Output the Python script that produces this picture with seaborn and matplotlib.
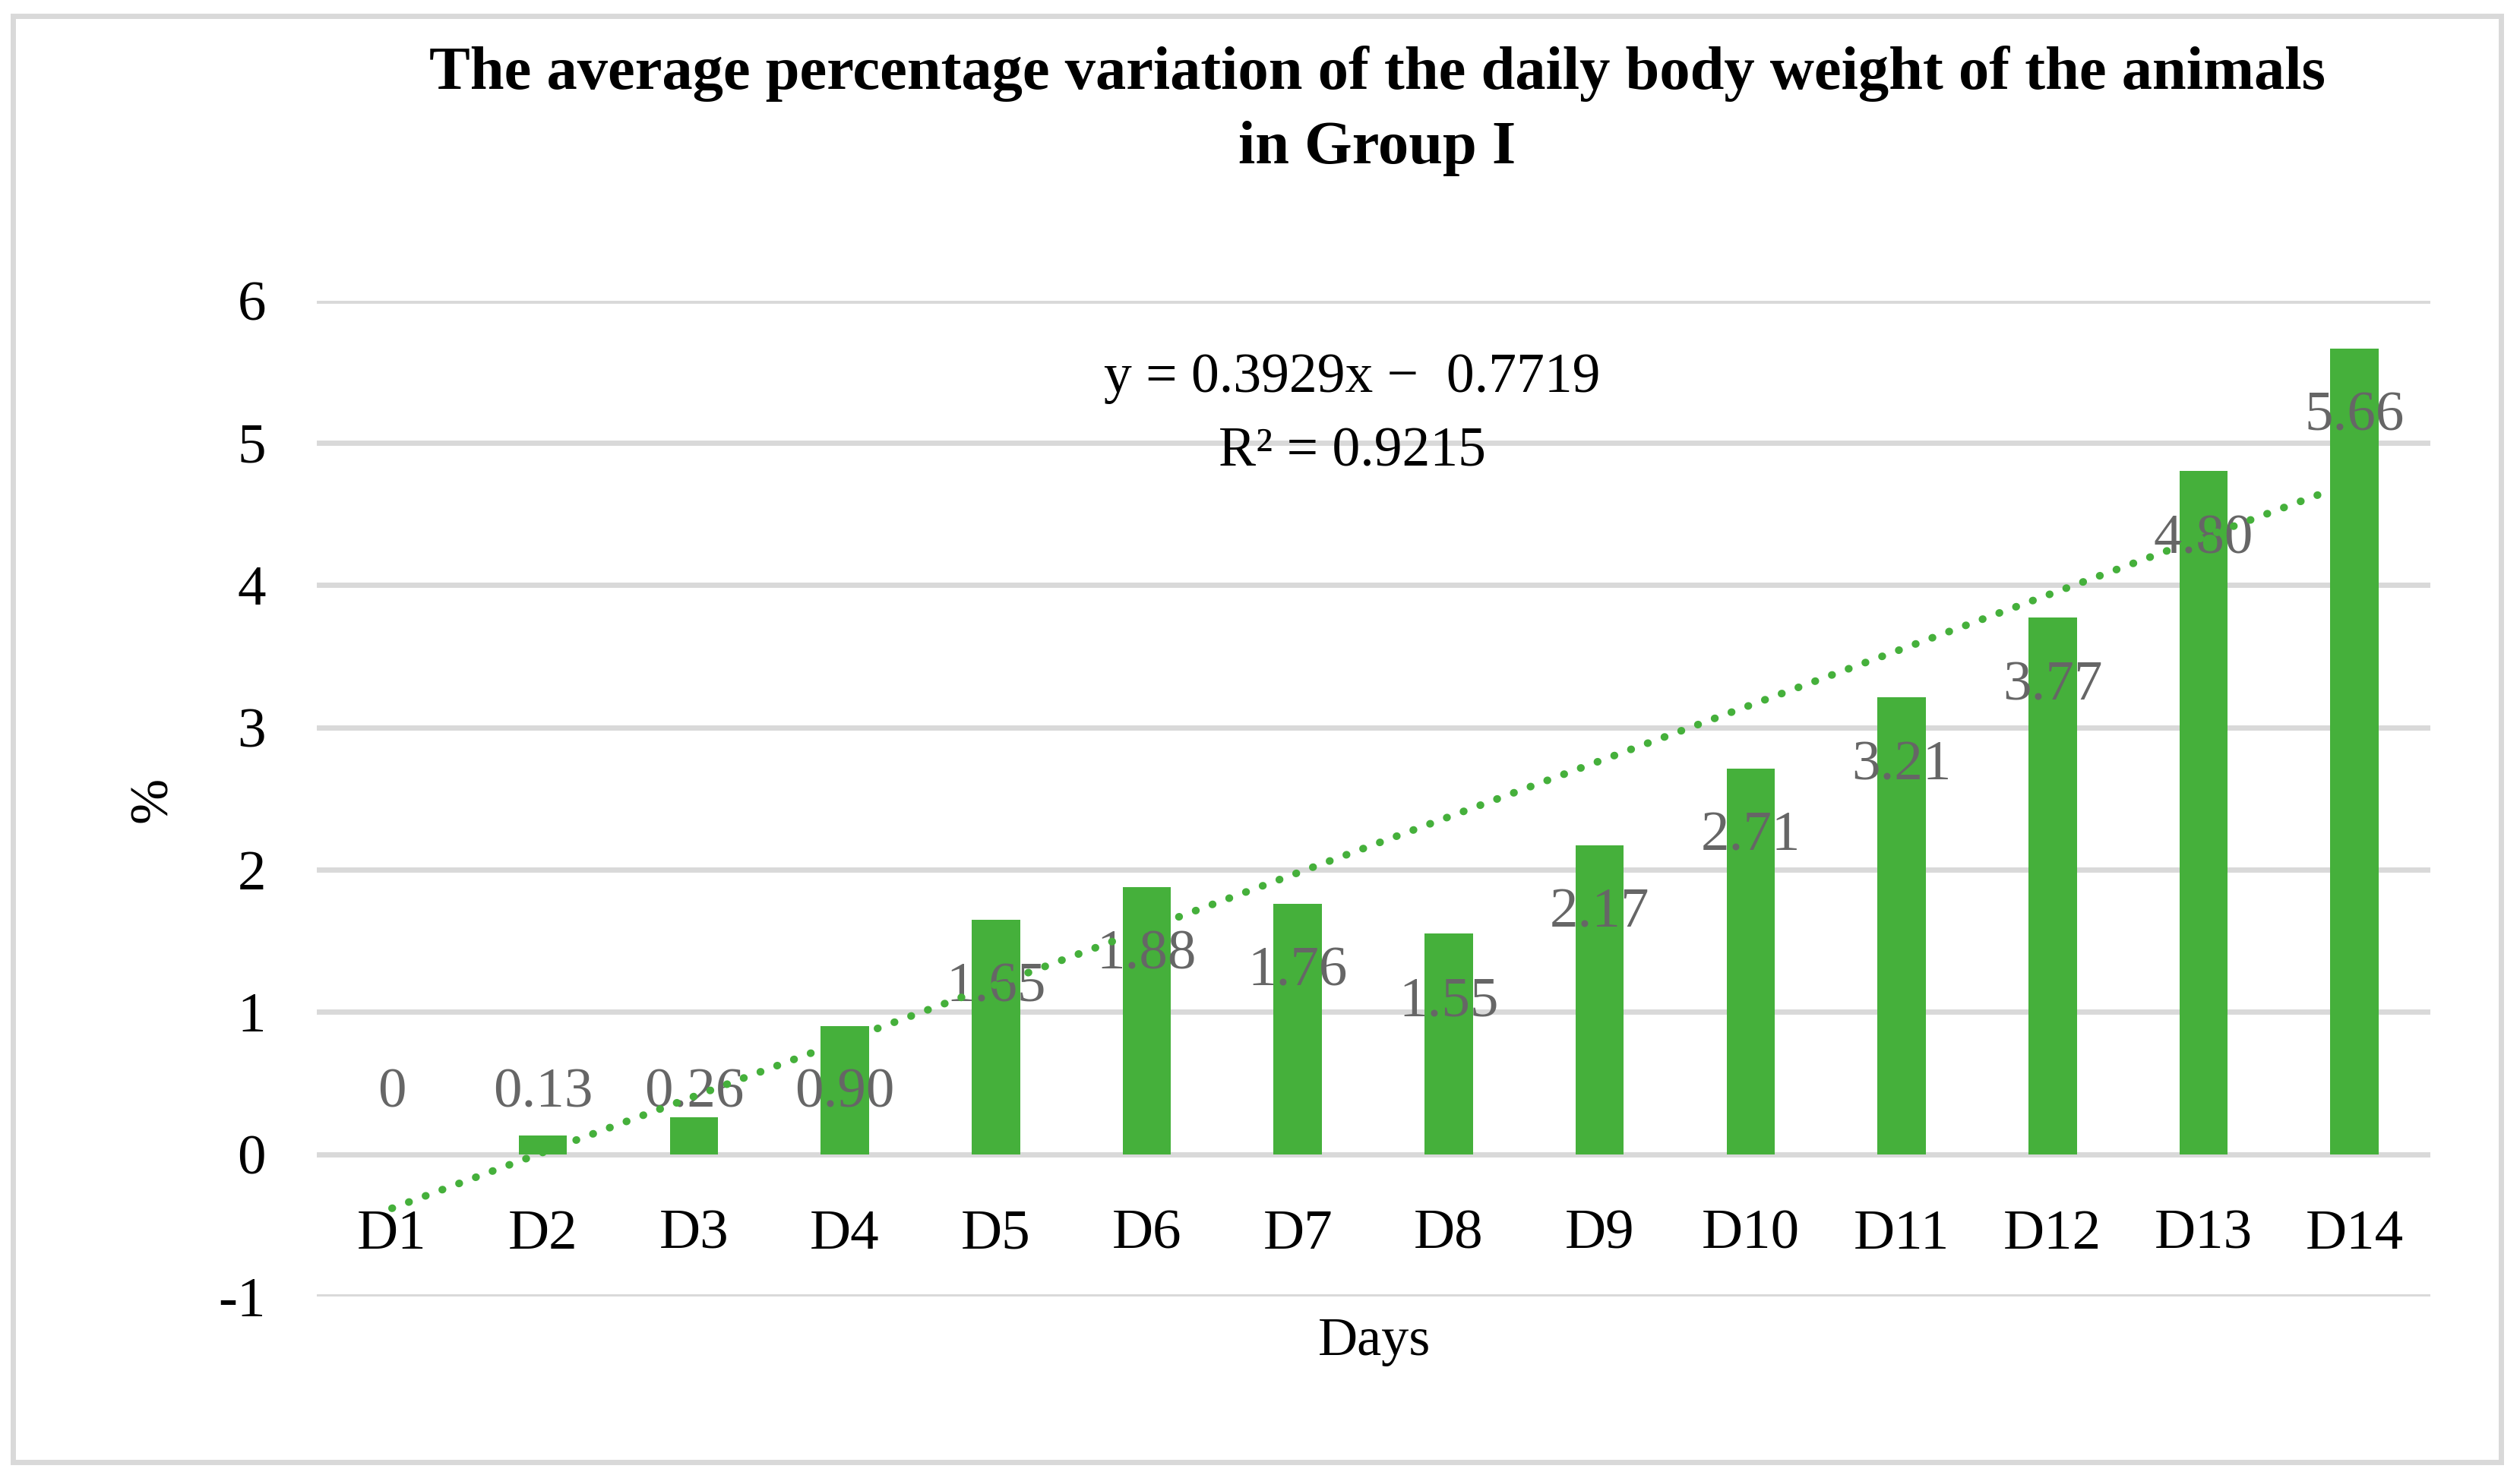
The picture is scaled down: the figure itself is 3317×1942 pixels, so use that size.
import numpy as np
import seaborn as sns
import matplotlib.pyplot as plt
from matplotlib.patches import Rectangle

# Data
days = ["D1", "D2", "D3", "D4", "D5", "D6", "D7", "D8", "D9", "D10", "D11", "D12", "D13", "D14"]
values = [0, 0.13, 0.26, 0.90, 1.65, 1.88, 1.76, 1.55, 2.17, 2.71, 3.21, 3.77, 4.80, 5.66]
value_labels = ["0", "0.13", "0.26", "0.90", "1.65", "1.88", "1.76", "1.55",
                "2.17", "2.71", "3.21", "3.77", "4.80", "5.66"]
slope, intercept, r2 = 0.3929, -0.7719, 0.9215

green = "#45B03B"
grid_col = "#D9D9D9"

sns.set_style("white")
plt.rcParams["font.family"] = ["Liberation Serif", "DejaVu Serif"]
plt.rcParams["axes.unicode_minus"] = False
plt.rcParams["text.color"] = "black"
plt.rcParams["xtick.color"] = "black"
plt.rcParams["ytick.color"] = "black"

fig = plt.figure(figsize=(16.585, 9.71), dpi=200)
ax = fig.add_axes([0.1256, 0.1209, 0.8387, 0.6754])

sns.barplot(x=days, y=values, color=green, width=0.32, saturation=1,
            linewidth=0, ax=ax, zorder=2)

# linear trend line (Excel style dotted)
xs = np.arange(len(days))
trend = slope * (xs + 1) + intercept
ax.plot(xs, trend, color=green, lw=3.6, linestyle=(0, (0.05, 2.3)),
        dash_capstyle="round", zorder=4)

# data labels
for i, (v, lab) in enumerate(zip(values, value_labels)):
    ax.text(i, max(v - 0.48, 0.43), lab, ha="center", va="center",
            fontsize=27, color="#666666", zorder=3)

ax.text(6.36, 5.45, "y = 0.3929x \u2212  0.7719", ha="center", va="center", fontsize=26.5)
ax.text(6.36, 4.93, f"R\u00b2 = {r2}", ha="center", va="center", fontsize=26.5)

ax.set_ylim(-1, 6)
ax.set_xlim(-0.5, len(days) - 0.5)
ax.set_yticks(range(-1, 7))
ax.yaxis.grid(True, color=grid_col, lw=2.5, zorder=0)
ax.set_axisbelow(True)
for s in ["top", "right", "left"]:
    ax.spines[s].set_visible(False)
ax.spines["bottom"].set_position(("data", 0))
ax.spines["bottom"].set_visible(False)
ax.tick_params(axis="y", length=0, pad=24, labelsize=27, labelcolor="black")
ax.tick_params(axis="x", length=0, pad=26, labelsize=27, labelcolor="black")

ax.set_xlabel("")
ax.set_ylabel("")
fig.text(0.0606, 0.458, "%", rotation=90, ha="center", va="center", fontsize=26)
fig.text(0.5453, 0.0905, "Days", ha="center", va="center", fontsize=26)

fig.text(0.5466, 0.925,
         "The average percentage variation of the daily body weight of the animals\nin Group I",
         ha="center", va="center", fontsize=29, fontweight="bold", linespacing=1.45)

# chart border
fig.patches.append(Rectangle((8 / 1568, 1 - 910 / 918), 1548 / 1568, 900 / 918,
                             transform=fig.transFigure, fill=False,
                             edgecolor=grid_col, lw=2.5))

fig.savefig("out.png", dpi=200, facecolor="white")
